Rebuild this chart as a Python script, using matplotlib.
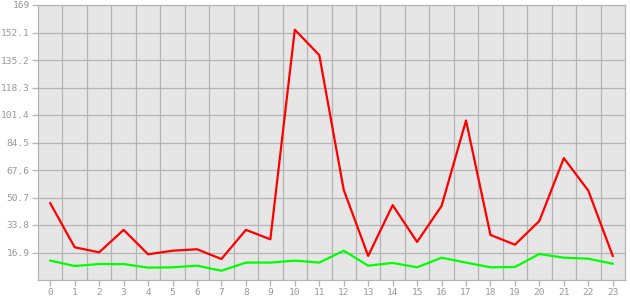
import matplotlib
matplotlib.use('Agg')
import matplotlib.pyplot as plt
from matplotlib.ticker import FixedLocator

# hourly values
hours = list(range(24))
red_series = [47.2, 20.1, 17.0, 30.8, 15.8, 18.0, 18.9, 12.9, 30.8, 25.0, 153.8, 138.2,
              55.4, 14.8, 46.0, 23.4, 45.5, 98.0, 27.7, 21.7, 36.3, 74.9, 54.9, 14.8]
green_series = [11.9, 8.6, 9.8, 9.8, 7.6, 7.8, 8.8, 5.7, 10.7, 10.7, 11.9, 10.7,
                18.0, 8.8, 10.5, 7.8, 13.7, 10.7, 7.8, 8.0, 16.0, 13.7, 13.1, 10.0]
y_ticks = [16.9, 33.8, 50.7, 67.6, 84.5, 101.4, 118.3, 135.2, 152.1, 169]

grid_col = '#b4b4b4'
text_col = '#999999'

fig = plt.figure(figsize=(6.3, 3.0), dpi=100)
ax = fig.add_axes([38 / 630, 20 / 300, 587 / 630, 275 / 300])
ax.set_facecolor('#e6e6e6')

ax.plot(hours, red_series, color='#ff0000', linewidth=1.6, zorder=3)
ax.plot(hours, green_series, color='#00ff00', linewidth=1.6, zorder=3)

ax.set_xlim(-0.5, 23.5)
ax.set_ylim(0, 169)

ax.set_xticks(hours)
ax.set_xticklabels([str(h) for h in hours])
ax.set_yticks(y_ticks)
ax.set_yticklabels([f'{v:g}' for v in y_ticks])

# grid lines sit between the hour ticks
ax.xaxis.set_minor_locator(FixedLocator([h + 0.5 for h in hours[:-1]]))
ax.grid(True, which='minor', axis='x', color=grid_col, linewidth=0.9)
ax.grid(True, which='major', axis='y', color=grid_col, linewidth=0.9)
ax.set_axisbelow(True)
ax.tick_params(axis='x', which='minor', length=0)

for s in ax.spines.values():
    s.set_color(grid_col)
    s.set_linewidth(0.9)

ax.tick_params(axis='both', which='major', colors=grid_col, labelcolor=text_col,
               length=4, width=0.9, labelsize=6.8, pad=2)
for lbl in ax.get_xticklabels() + ax.get_yticklabels():
    lbl.set_family('DejaVu Sans Mono')

fig.savefig('out.png', dpi=100, facecolor='white')
